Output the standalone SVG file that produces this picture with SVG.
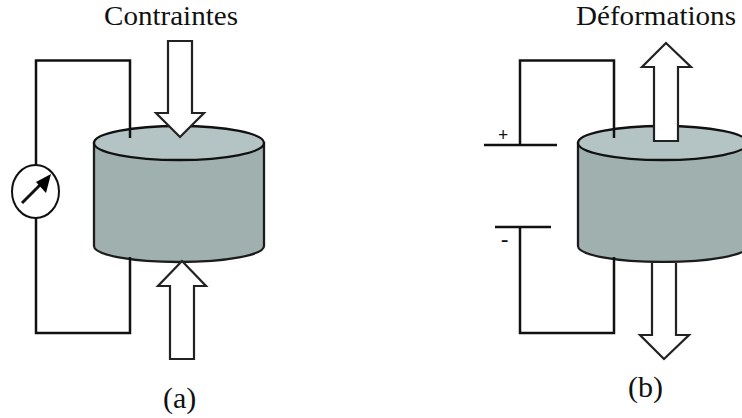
<svg xmlns="http://www.w3.org/2000/svg" width="742" height="418" viewBox="0 0 742 418">
<style>
.body{fill:#a0b0ae;stroke:#1c1c1c;stroke-width:2.300}
.top{fill:#b4c4c4;stroke:#111;stroke-width:2.300}
.wire{fill:none;stroke:#111;stroke-width:2.500}
.arrow{fill:#fff;stroke:#222;stroke-width:2.200;stroke-linejoin:miter}
.t{font-family:"Liberation Serif","Times New Roman",serif;fill:#111}
</style>
<rect width="742" height="418" fill="#fff"/>
<g id="cylinder-a">
<path class="body" d="M94 143V246C94 255 132 262 179 262S264 255 264 246V143Z"/>
<ellipse class="top" cx="179" cy="143" rx="85" ry="17"/>
</g>
<g id="cylinder-b">
<path class="body" d="M578 143V246C578 255 616 262 663 262S748 255 748 246V143Z"/>
<ellipse class="top" cx="663" cy="143" rx="85" ry="17"/>
</g>
<g id="connectors">
<path class="wire" d="M36 166V60.500H130V138"/>
<path class="wire" d="M36 217V333H130V257"/>
<path class="wire" d="M520 145V60.500H614V138"/>
<path class="wire" d="M520 227V333H614V257"/>
</g>
<g id="meter">
<ellipse cx="35.500" cy="191.500" rx="23.500" ry="26.500" fill="#fff" stroke="#111" stroke-width="2"/>
<path d="M22 203L41 184" stroke="#111" stroke-width="3" fill="none"/>
<path d="M51 174L46 193L36 182Z" fill="#000"/>
</g>
<g id="battery">
<path class="wire" d="M484 145H557"/>
<path class="wire" d="M495 227H551"/>
</g>
<g id="arrow-a-top"><path class="arrow" d="M168 41H192V113H204L180 137L156 113H168Z"/></g>
<g id="arrow-a-bottom"><path class="arrow" d="M170 359H194V286H206L182 261L158 286H170Z"/></g>
<g id="arrow-b-top"><path class="arrow" d="M654 141H678V67H691L666 43L642 67H654Z"/></g>
<g id="arrow-b-bottom"><path class="arrow" d="M652 263V335H640L664 359L689 335H676V263"/></g>
<g id="labels">
<text class="t" x="104" y="25" font-size="28" textLength="134" lengthAdjust="spacingAndGlyphs">Contraintes</text>
<text class="t" x="576" y="25" font-size="28" textLength="160" lengthAdjust="spacingAndGlyphs">Déformations</text>
<text class="t" x="163" y="408" font-size="30">(a)</text>
<text class="t" x="628" y="397" font-size="30">(b)</text>
<text class="t" x="498" y="141" font-size="18" font-weight="bold">+</text>
<text class="t" x="501" y="246" font-size="22" font-weight="bold">-</text>
</g>
</svg>
